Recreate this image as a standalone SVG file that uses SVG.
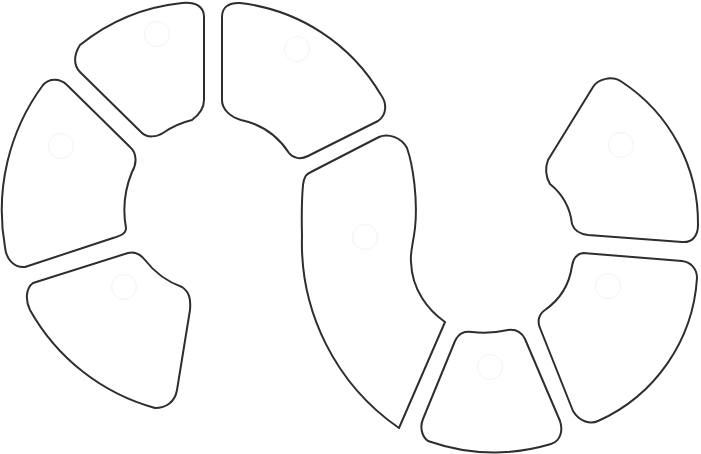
<svg xmlns="http://www.w3.org/2000/svg" width="701" height="454" viewBox="0 0 701 454">
<style>
.seg{fill:#ffffff;stroke:#2e2e2e;stroke-width:2;stroke-linejoin:round}
.dot{fill:none;stroke:#f3f3f3;stroke-width:1}
</style>
<rect width="701" height="454" fill="#ffffff"/>
<g id="slice-a">
<path class="seg" d="M204,100 L204,17 C204,7 196,1.5 182,3 A195,195 0 0 0 80,45 C73,56 74,66 80,72 L142,133 C147,138 157,137 163,133 A85,85 0 0 1 192,120 C200,114 204,108 204,100 Z"/>
<circle class="dot" cx="157" cy="34" r="12.5"/>
</g>
<g id="slice-b">
<path class="seg" d="M222,100 L222,17 C222,7 229,2.5 240,3 A188,188 0 0 1 381,95 C387,103 387,115 378,121 L308,156 C300,160 293,158 289,153 A76,76 0 0 0 241,120 C231,117 222,110 222,100 Z"/>
<circle class="dot" cx="297" cy="49" r="12.5"/>
</g>
<g id="slice-c">
<path class="seg" d="M43,85 A211,211 0 0 0 5,247 C6,259 14,268 25,267 L113,238 C120,236 126,234 126,228 A100,100 0 0 1 132,172 C137,164 137,153 130,147 L67,85 C60,78 49,78 43,85 Z"/>
<circle class="dot" cx="61" cy="146" r="12.5"/>
</g>
<g id="slice-d">
<path class="seg" d="M33,283 L128,253 C135,251 141,255 145,260 A82,82 0 0 0 182,287 C189,292 191,298 190,310 L177,390 C175,402 166,408 155,408 A206,206 0 0 1 30,310 C25,300 26,288 33,283 Z"/>
<circle class="dot" cx="124" cy="287" r="12.5"/>
</g>
<g id="slice-e">
<path class="seg" d="M311,172 L379,137 C388,133 401,137 407,148 C413,165 418,200 415,228 C413,245 410,252 411,262 C412,290 428,310 445,322 L399,428 A225,225 0 0 1 302,236 C301.5,215 302,196 303,185 C304,177 306,174 311,172 Z"/>
<circle class="dot" cx="365" cy="237" r="12.5"/>
</g>
<g id="slice-f">
<path class="seg" d="M455,341 C459,333 464,331 472,332 Q490,334 508,330 C516,329 522,333 525,339 L560,421 C563,430 561,441 551,444 A200,200 0 0 1 428,441 C421,436 420,426 423,419 Z"/>
<circle class="dot" cx="490" cy="367" r="12.5"/>
</g>
<g id="slice-g">
<path class="seg" d="M548,160 L593,87 C598,79 612,75 622,82 A169,169 0 0 1 698,225 C698,236 692,243 682,242 L588,235 C580,234 574,230 572,224 A60,60 0 0 0 550,184 C546,177 545,168 548,160 Z"/>
<circle class="dot" cx="621" cy="145" r="12.5"/>
</g>
<g id="slice-h">
<path class="seg" d="M583,253 L682,261 C690,262 697,268 697,278 A168,168 0 0 1 598,421 C590,425 579,421 573,411 L540,328 C537,321 539,314 545,310 A65,65 0 0 0 572,266 C573,260 576,254 583,253 Z"/>
<circle class="dot" cx="608" cy="286" r="12.5"/>
</g>
<g id="connectors"></g>
</svg>
